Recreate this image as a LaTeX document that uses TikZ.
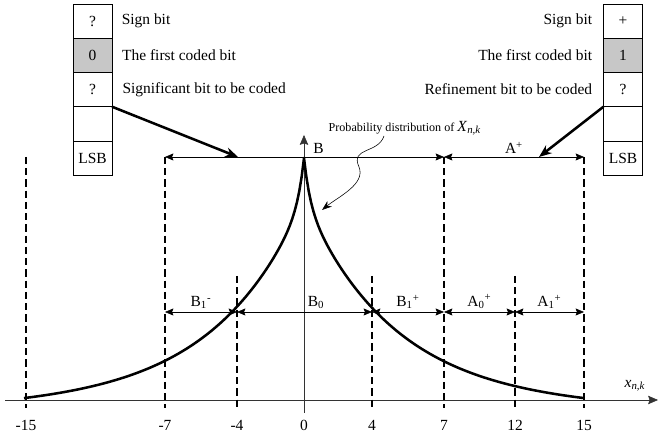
\documentclass[tikz,border=0pt]{standalone}
\usepackage{fontspec}
\setmainfont{Liberation Serif}
\usetikzlibrary{arrows.meta, positioning}

\begin{document}
\begin{tikzpicture}[
    x=0.025cm,
    y=0.025cm,
    every node/.style={font=\fontsize{11}{13}\selectfont},
    bitcell/.style={
        draw=black,
        thin,
        minimum width=0.975cm,
        minimum height=0.856cm,
        inner sep=0pt,
        outer sep=0pt,
        fill=white
    },
    codedcell/.style={
        bitcell,
        fill=black!22
    },
    boundary/.style={
        draw=black,
        line width=1.1pt,
        dash pattern=on 5pt off 3pt
    },
    interval/.style={
        {Stealth[length=6pt, width=5pt, inset=1pt]}-{Stealth[length=6pt, width=5pt, inset=1pt]},
        draw=black,
        thin
    },
    axisline/.style={
        -{Stealth[length=7pt, width=6pt, inset=1pt]},
        draw=black!80,
        thin
    },
    bigarrow/.style={
        -{Stealth[length=9pt, width=7pt]},
        line width=1.8pt
    },
    pdfcurve/.style={
        line width=1.8pt,
        line join=round
    }
]

\useasboundingbox (0,0) rectangle (660,439);

% ============================================================
% EIXOS
% ============================================================

\coordinate (xstart) at (5,39);
\coordinate (xend) at (658,39);
\coordinate (ystart) at (304,26);
\coordinate (yend) at (304,304);

\draw[axisline] (xstart) -- (xend);
\draw[axisline] (ystart) -- (yend);

\node (xlabel) at (635,53)
{\textit{x}\textsubscript{\textit{n,k}}};

% valores do eixo
\node (tm15) at (26,14) {-15};
\node (tm7) at (165,14) {-7};
\node (tm4) at (237,14) {-4};
\node (tz) at (304,14) {0};
\node (tp4) at (372,14) {4};
\node (tp7) at (444,14) {7};
\node (tp12) at (515,14) {12};
\node (tp15) at (584,14) {15};

% ============================================================
% LIMITES (TRACEJADO)
% ============================================================

\draw[boundary] (26,282) -- (26,31);
\draw[boundary] (165,282) -- (165,31);
\draw[boundary] (237,163) -- (237,31);
\draw[boundary] (372,163) -- (372,31);
\draw[boundary] (444,282) -- (444,31);
\draw[boundary] (515,163) -- (515,31);
\draw[boundary] (584,282) -- (584,31);

% ============================================================
% INTERVALOS
% ============================================================

% linha de cima
\coordinate (hm7) at (165,282);
\coordinate (hp7) at (444,282);
\coordinate (hp15) at (584,282);

\draw[interval]
(hm7) --
node[
    pos=0.55,
    above,
    inner sep=2pt
] (blabel)
{B}
(hp7);

\draw[interval]
(hp7) --
node[
    above,
    inner sep=2pt
] (alabel)
{A\textsuperscript{+}}
(hp15);

% linha do meio
\coordinate (mm7) at (165,127);
\coordinate (mm4) at (237,127);
\coordinate (mp4) at (372,127);
\coordinate (mp7) at (444,127);
\coordinate (mp12) at (515,127);
\coordinate (mp15) at (584,127);

\draw[interval]
(mm7) --
node[above, inner sep=2pt] (b1m)
{B\textsubscript{1}\textsuperscript{-}}
(mm4);

\draw[interval]
(mm4) --
node[pos=0.585, above, inner sep=2pt] (b0)
{B\textsubscript{0}}
(mp4);

\draw[interval]
(mp4) --
node[above, inner sep=2pt] (b1p)
{B\textsubscript{1}\textsuperscript{+}}
(mp7);

\draw[interval]
(mp7) --
node[above, inner sep=2pt] (a0p)
{A\textsubscript{0}\textsuperscript{+}}
(mp12);

\draw[interval]
(mp12) --
node[above, inner sep=2pt] (a1p)
{A\textsubscript{1}\textsuperscript{+}}
(mp15);

% ============================================================
% DISTRIBUIÇÃO
% ============================================================

\draw[pdfcurve]
plot[domain=280:0, samples=120]
({304-\x}, {39+200*exp(-\x/90)+42*exp(-\x/6)-0.025*\x})
-- plot[domain=0:280, samples=120]
({304+\x}, {39+200*exp(-\x/90)+42*exp(-\x/6)-0.025*\x});

\node[
    anchor=south west,
    font=\fontsize{8.6}{10}\selectfont,
    inner sep=1pt
] (problabel) at (327,302)
{Probability distribution of {\fontsize{11}{13}\selectfont\textit{X}\textsubscript{\textit{n,k}}}};

\coordinate (wavestart) at (384,303);
\coordinate (curvept) at (322,229);

\draw[
    -{Stealth[length=7pt, width=5pt]},
    thin
]
(wavestart) .. controls (378,285) and (350,292) .. (359,272)
.. controls (366,255) and (338,242) .. (curvept);

% ============================================================
% PALAVRA DE BITS (ESQUERDA)
% ============================================================

\node[bitcell] (l1) at (92.5,417.9) {?};
\node[codedcell, below=0pt of l1] (l2) {0};
\node[bitcell, below=0pt of l2] (l3) {?};
\node[bitcell, below=0pt of l3] (l4) {};
\node[bitcell, below=0pt of l4] (l5) {LSB};

\node[right=1.2mm of l1] (lsign) {Sign bit};
\node[right=1.3mm of l2] (lfirst) {The first coded bit};
\node[right=1.4mm of l3] (lsig) {Significant bit to be coded};

\coordinate (bpoint) at (238,282);
\draw[bigarrow] (l3.south east) -- (bpoint);

% ============================================================
% PALAVRA DE BITS (DIREITA)
% ============================================================

\node[bitcell] (r1) at (623,417.9) {+};
\node[codedcell, below=0pt of r1] (r2) {1};
\node[bitcell, below=0pt of r2] (r3) {?};
\node[bitcell, below=0pt of r3] (r4) {};
\node[bitcell, below=0pt of r4] (r5) {LSB};

\node[left=1.6mm of r1] (rsign) {Sign bit};
\node[left=1.6mm of r2] (rfirst) {The first coded bit};
\node[left=1.6mm of r3] (rref) {Refinement bit to be coded};

\coordinate (apoint) at (539,282);
\draw[bigarrow] (r3.south west) -- (apoint);

\end{tikzpicture}
\end{document}
